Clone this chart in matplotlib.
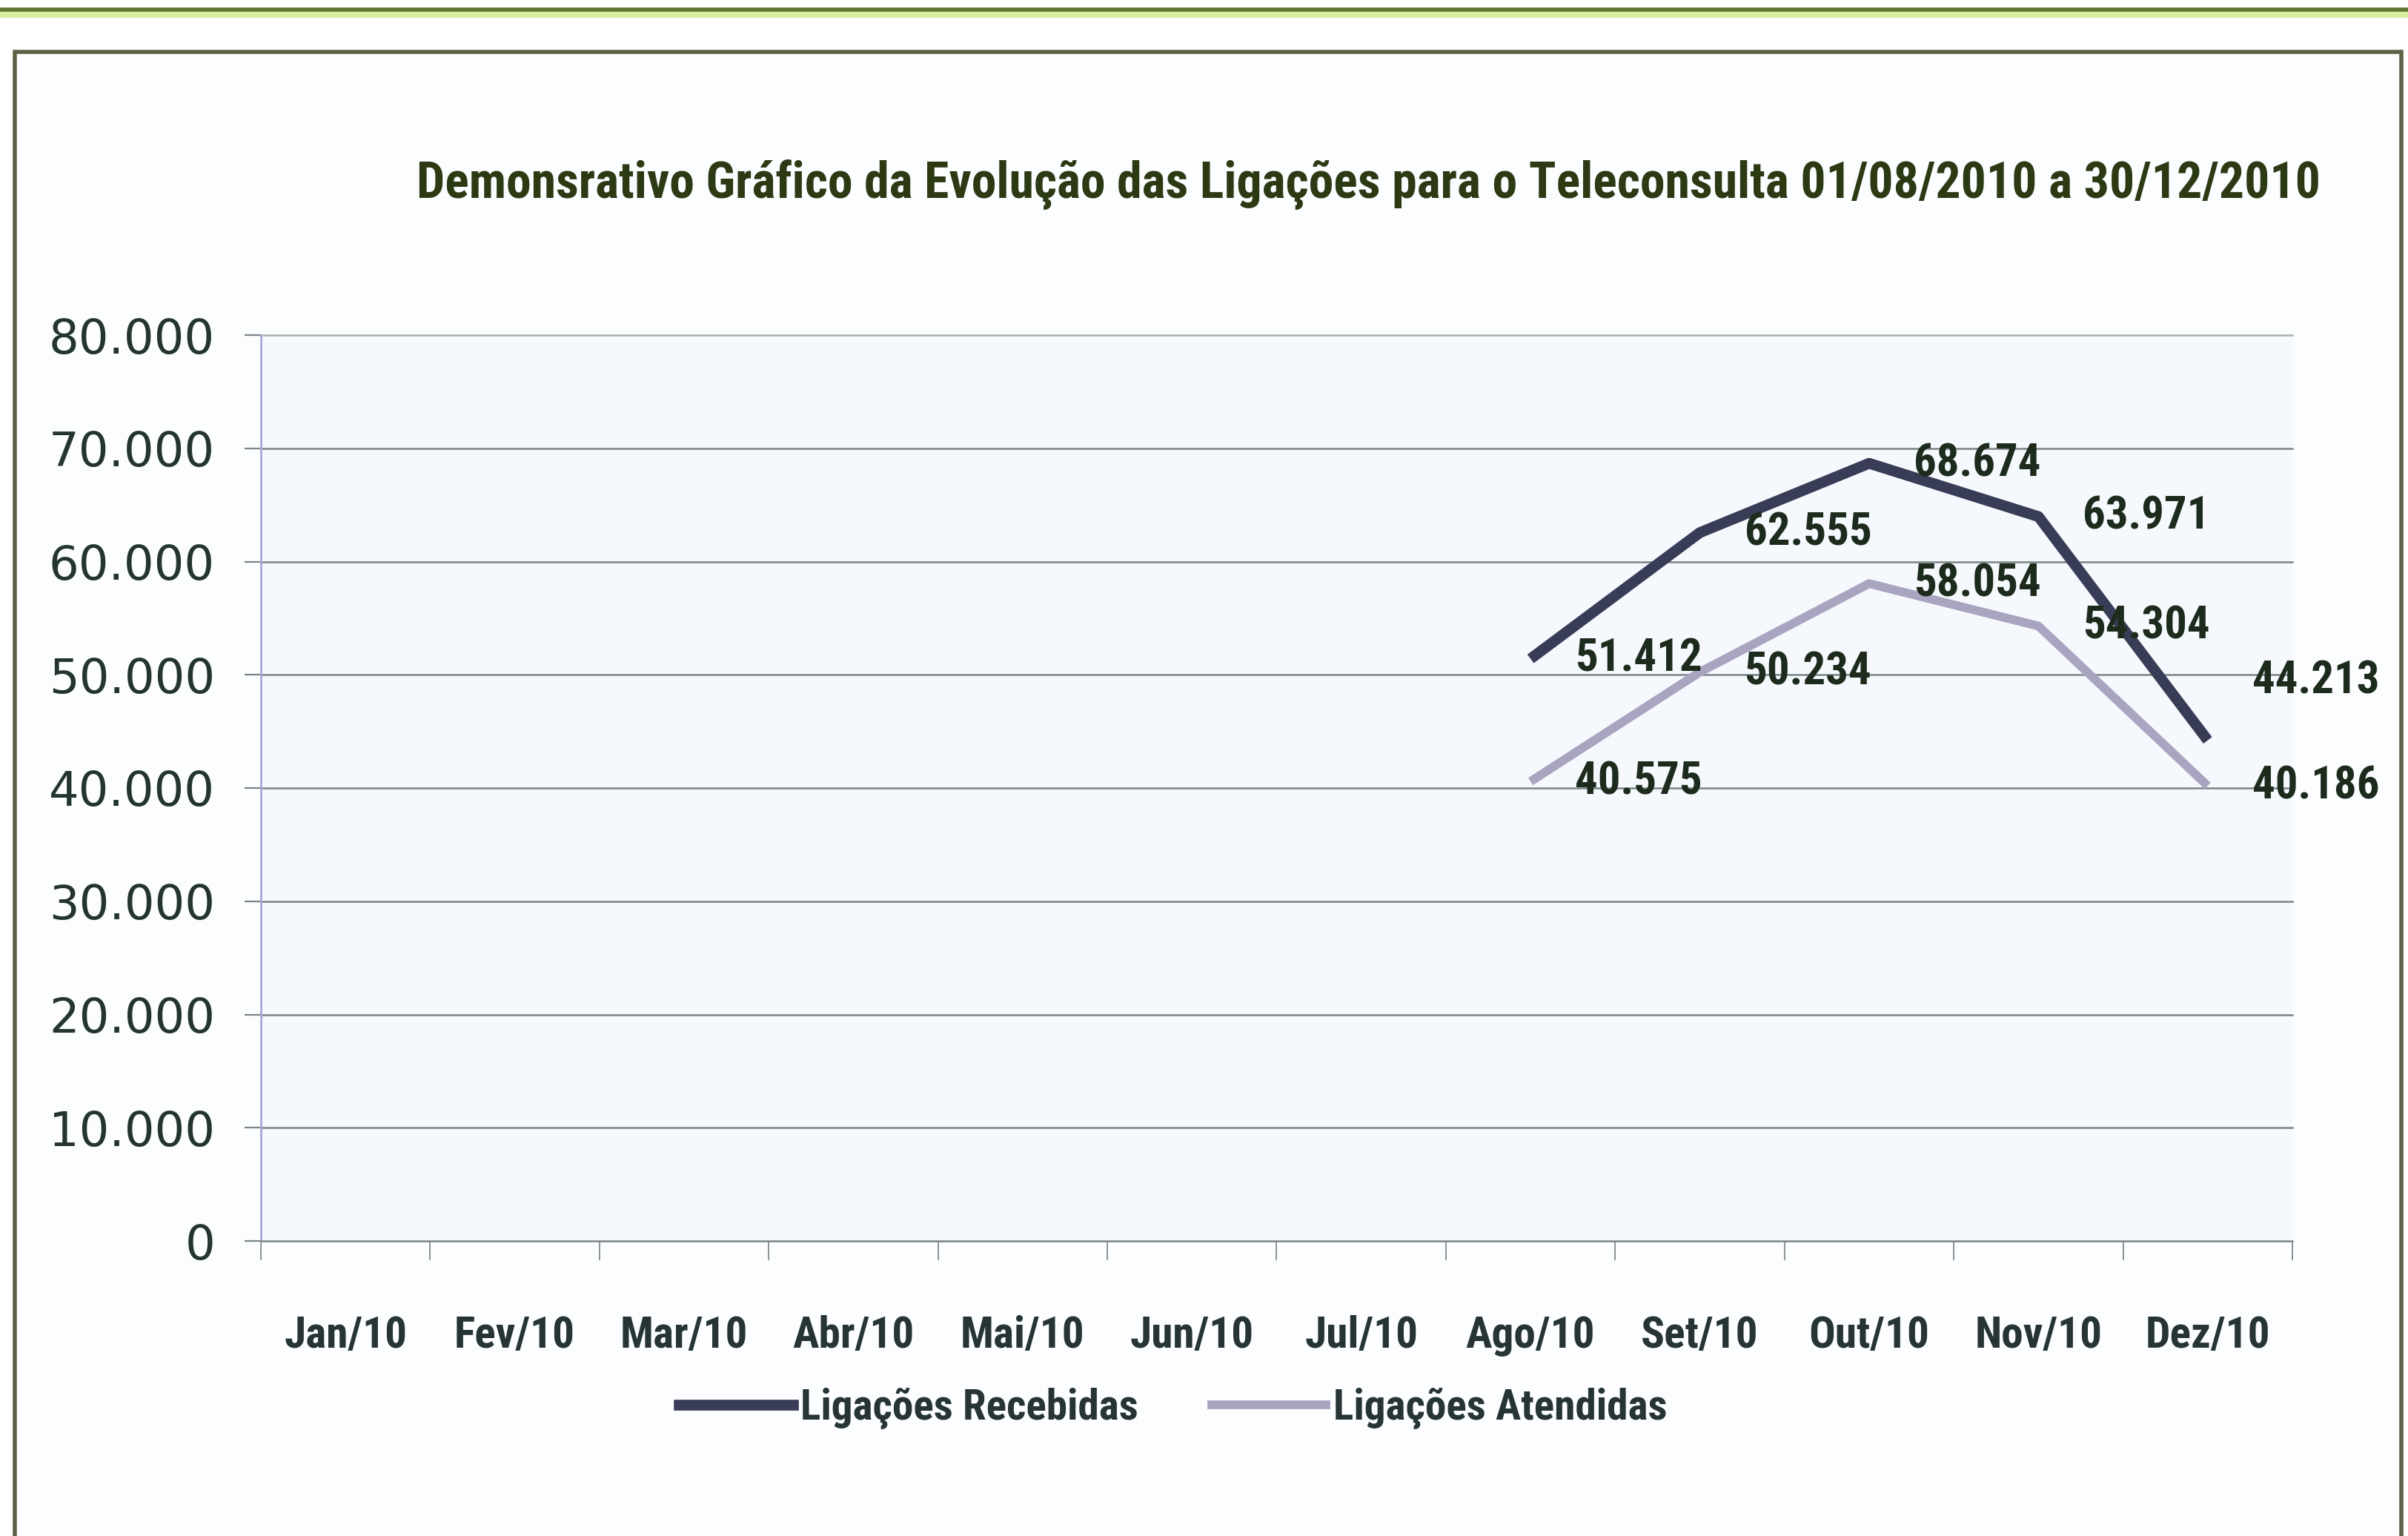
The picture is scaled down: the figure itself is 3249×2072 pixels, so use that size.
import matplotlib
matplotlib.use("Agg")
import matplotlib.pyplot as plt
from matplotlib import font_manager as fm
from matplotlib.font_manager import FontProperties
from matplotlib.textpath import TextPath
from matplotlib.lines import Line2D
import numpy as np

# ---------------- data ----------------
months = ["Jan/10", "Fev/10", "Mar/10", "Abr/10", "Mai/10", "Jun/10",
          "Jul/10", "Ago/10", "Set/10", "Out/10", "Nov/10", "Dez/10"]
recebidas = [None, None, None, None, None, None, None,
             51412, 62555, 68674, 63971, 44213]
atendidas = [None, None, None, None, None, None, None,
             40575, 50234, 58054, 54304, 40186]
yticks = [0, 10000, 20000, 30000, 40000, 50000, 60000, 70000, 80000]
ytick_labels = ["0", "10.000", "20.000", "30.000", "40.000",
                "50.000", "60.000", "70.000", "80.000"]
title = ("Demonsrativo Gráfico da Evolução das Ligações para o "
         "Teleconsulta 01/08/2010 a 30/12/2010")
series_names = ["Ligações Recebidas", "Ligações Atendidas"]

# ---------------- fonts ----------------
def pick_narrow_bold():
    best = None
    score_best = -1
    for f in fm.fontManager.ttflist:
        name = f.name
        fname = f.fname.lower()
        narrow = ("narrow" in name.lower() or "condensed" in name.lower()
                  or "narrow" in fname or "condensed" in fname
                  or f.stretch in ("condensed", "semi-condensed", "extra-condensed",
                                   "ultra-condensed"))
        if not narrow:
            continue
        if "italic" in fname or f.style != "normal":
            continue
        w = f.weight if isinstance(f.weight, int) else (700 if "bold" in str(f.weight) else 400)
        sc = 0
        if w >= 600:
            sc += 10
        if "liberation" in fname:
            sc += 3
        if "roboto" in fname:
            sc += 2
        if "extra" in fname or "ultra" in fname or "semicondensed" in fname:
            sc -= 1
        if sc > score_best:
            score_best = sc
            best = f.fname
    if best is not None:
        return FontProperties(fname=best)
    return FontProperties(family="Liberation Sans", weight="bold")

narrow_fp = pick_narrow_bold()
ytick_fp = FontProperties(family="DejaVu Sans")

DPI = 100
W, H = 3249, 2072

def size_for(text, fp, target_px):
    ext = TextPath((0, 0), text, size=100, prop=fp).get_extents()
    return target_px * 72.0 / ext.width

def with_size(fp, s):
    p = fp.copy()
    p.set_size(s)
    return p

# ---------------- figure ----------------
fig = plt.figure(figsize=(W / DPI, H / DPI), dpi=DPI)
fig.patch.set_facecolor("white")

# frame / decorations
fig.add_artist(Line2D([0, 1], [1 - 17 / H, 1 - 17 / H], transform=fig.transFigure,
                      color="#d8efa0", lw=10, zorder=0))
fig.add_artist(Line2D([0, 1], [1 - 13 / H, 1 - 13 / H], transform=fig.transFigure,
                      color="#5f7434", lw=4, zorder=1))
box_l, box_r, box_t = 20 / W, 3240 / W, 1 - 70 / H
fig.add_artist(plt.Rectangle((box_l, -0.05), box_r - box_l, box_t + 0.05,
                             transform=fig.transFigure, facecolor="#fbfdff",
                             edgecolor="#5c6247", lw=4, zorder=0))

ax_l, ax_r = 352 / W, 3093 / W
ax_b, ax_t = 1 - 1674 / H, 1 - 452 / H
ax = fig.add_axes([ax_l, ax_b, ax_r - ax_l, ax_t - ax_b])
ax.set_facecolor("#f5f9fd")

x = np.arange(len(months))
rec = np.array([np.nan if v is None else v for v in recebidas], dtype=float)
ate = np.array([np.nan if v is None else v for v in atendidas], dtype=float)

c_rec = "#383c56"
c_ate = "#a9a5c1"
ax.plot(x, rec, color=c_rec, lw=10.5, solid_joinstyle="round",
        solid_capstyle="butt", zorder=4)
ax.plot(x, ate, color=c_ate, lw=8.5, solid_joinstyle="round",
        solid_capstyle="butt", zorder=3)

ax.set_xlim(-0.5, len(months) - 0.5)
ax.set_ylim(0, 80000)

# grid
for v in yticks[1:]:
    ax.axhline(v, color="#7a8585" if v < 80000 else "#a8b0b0", lw=1.8,
               zorder=1, clip_on=False)

for s in ["top", "right"]:
    ax.spines[s].set_visible(False)
ax.spines["left"].set_color("#a8a8d4")
ax.spines["left"].set_linewidth(2.0)
ax.spines["bottom"].set_color("#7a8585")
ax.spines["bottom"].set_linewidth(1.8)

# y ticks
ax.set_yticks(yticks)
ysize = size_for("80.000", ytick_fp, 207) * 1.04
ax.set_yticklabels(ytick_labels, fontproperties=with_size(ytick_fp, ysize),
                   color="#24352f")
ax.tick_params(axis="y", direction="out", length=22 * 0.72, width=1.6,
               color="#7a8585", pad=(352 - 290 - 22) * 0.72)

# x ticks: boundaries as major (marks), centres as minor (labels)
ax.set_xticks(np.arange(-0.5, len(months), 1.0))
ax.set_xticklabels([])
ax.tick_params(axis="x", which="major", direction="out", length=26 * 0.72,
               width=1.4, color="#8a9494")
ax.set_xticks(x, minor=True)
xsize = size_for("Jan/10", narrow_fp, 162)
ax.set_xticklabels(months, minor=True, fontproperties=with_size(narrow_fp, xsize),
                   color="#263434")
ax.tick_params(axis="x", which="minor", length=0, pad=100 * 0.72)

# data labels
lsize = size_for("51.412", narrow_fp, 166)
lab_fp = with_size(narrow_fp, lsize)
def fmt(v):
    return f"{int(v):,}".replace(",", ".")
for ys in (rec, ate):
    for xi, yi in zip(x, ys):
        if np.isnan(yi):
            continue
        dy = 0
        if xi == len(months) - 1 and ys is rec:
            dy = 80
        ax.annotate(fmt(yi), (xi, yi), xytext=(60, dy), textcoords="offset pixels",
                    ha="left", va="center", fontproperties=lab_fp,
                    color="#1d2b1d", zorder=6, annotation_clip=False)

# title
tsize = size_for(title, narrow_fp, 2565)
fig.text(1846 / W, 1 - 249 / H, title, ha="center", va="center",
         fontproperties=with_size(narrow_fp, tsize), color="#2c3a14")

# legend
gsize = size_for(series_names[0], narrow_fp, 451)
em_px = gsize * DPI / 72.0
handles = [Line2D([], [], color=c_rec, lw=10.5), Line2D([], [], color=c_ate, lw=8.5)]
leg = fig.legend(handles, series_names, loc="center",
                 bbox_to_anchor=(1583 / W, 1 - 1900 / H), ncol=2, frameon=False,
                 prop=with_size(narrow_fp, gsize), handlelength=154 / em_px,
                 handletextpad=10 / em_px, columnspacing=99 / em_px,
                 borderpad=0, borderaxespad=0)
for t in leg.get_texts():
    t.set_color("#263434")

fig.savefig("out.png", dpi=DPI, facecolor=fig.get_facecolor())
